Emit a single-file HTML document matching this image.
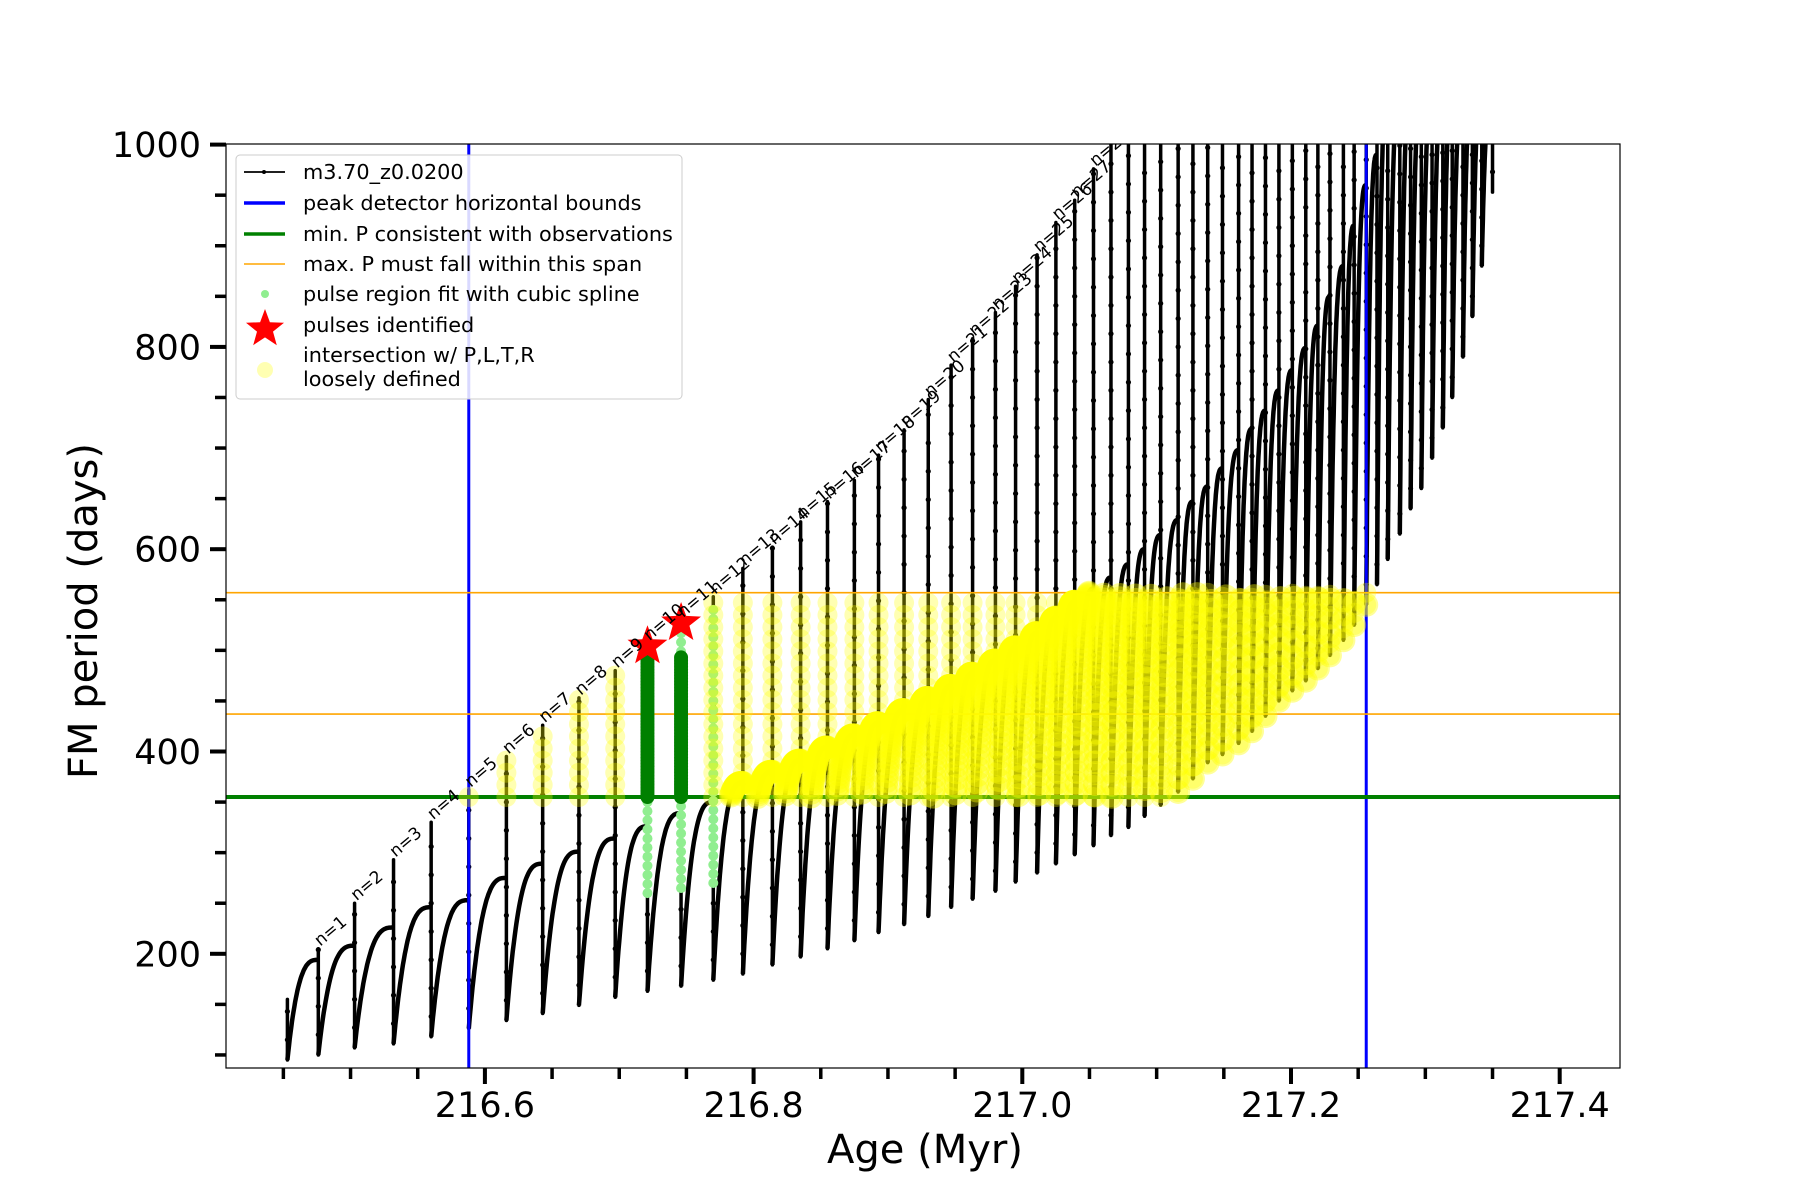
<!DOCTYPE html>
<html><head><meta charset="utf-8"><style>
html,body{margin:0;padding:0;background:#fff;}
svg{display:block;font-family:"DejaVu Sans","Liberation Sans",sans-serif;}
</style></head><body>
<svg id="chart" width="1800" height="1200" viewBox="0 0 1800 1200" xmlns="http://www.w3.org/2000/svg">
<defs><clipPath id="plotclip"><rect x="226" y="144" width="1394" height="924"/></clipPath></defs>
<rect x="0" y="0" width="1800" height="1200" fill="#fff"/>
<g id="plot" clip-path="url(#plotclip)"></g>
<rect x="226" y="144" width="1394" height="924" fill="none" stroke="#000" stroke-width="1.2"/>
<g id="axes"></g>
<text x="925" y="1163" font-size="40" text-anchor="middle">Age (Myr)</text>
<text x="0" y="0" font-size="40" text-anchor="middle" transform="translate(97,611) rotate(-90)">FM period (days)</text>
<g id="legend">
<rect x="236" y="155" width="446" height="244" rx="4" fill="#fff" fill-opacity="0.85" stroke="#ccc" stroke-width="1"/>
<g><line x1="244" y1="172" x2="285" y2="172" stroke="#000" stroke-width="1.8"/><circle cx="264" cy="172" r="2" fill="#000"/><text x="303" y="179" font-size="20.8">m3.70_z0.0200</text></g>
<g><line x1="244" y1="203" x2="285" y2="203" stroke="#0000ff" stroke-width="3.5"/><text x="303" y="210" font-size="20.8">peak detector horizontal bounds</text></g>
<g><line x1="244" y1="234" x2="285" y2="234" stroke="#008000" stroke-width="3.5"/><text x="303" y="241" font-size="20.8">min. P consistent with observations</text></g>
<g><line x1="244" y1="264" x2="285" y2="264" stroke="#ffa500" stroke-width="1.5"/><text x="303" y="271" font-size="20.8">max. P must fall within this span</text></g>
<g><circle cx="265" cy="294" r="4" fill="#90ee90"/><text x="303" y="301" font-size="20.8">pulse region fit with cubic spline</text></g>
<g><polygon id="legstar" fill="#ff0000"/><text x="303" y="332" font-size="20.8">pulses identified</text></g>
<g><circle cx="265" cy="370" r="8" fill="#ffff00" fill-opacity="0.3"/><text x="303" y="362" font-size="20.8">intersection w/ P,L,T,R</text><text x="303" y="386" font-size="20.8">loosely defined</text></g>
</g>
</svg>
<script>
// ---- data ----
const pulseAge = [216.453,216.476,216.503,216.532,216.560,216.588,216.616,216.643,216.670,216.697,216.721,216.746,216.770,216.792,216.814,216.835,216.855,216.875,216.893,216.912,216.930,216.947,216.963,216.980,216.995,217.011,217.025,217.039,217.053,217.066,217.079,217.091,217.103,217.116,217.127,217.138,217.149,217.161,217.171,217.181,217.191,217.201,217.211,217.220,217.229,217.239,217.247,217.256,217.264,217.272,217.281,217.289,217.297,217.305,217.313,217.320,217.328,217.335,217.342,217.350];
const spikeTop = [155,205,250,293,330,362,395,426,453,480,507,530,553,581,602,627,647,668,693,718,748,782,808,834,860,891,923,945,976,1050,1050,1050,1050,1050,1050,1050,1050,1050,1050,1050,1050,1050,1050,1050,1050,1050,1050,1050,1050,1050,1050,1050,1050,1050,1050,1050,1050,1050,1050,1050];
const peakBefore = [155,194,208,226,246,253,275,289,301,314,326,339,350,369,380,391,404,416,428,441,453,465,477,490,503,517,532,548,561,572,585,600,614,629,647,662,680,698,719,737,757,777,799,821,850,880,920,960,990,1050,1050,1050,1050,1050,1050,1050,1050,1050,1050,1050];
const troughAfter = [95,100,107,111,118,126,134,141,149,157,163,168,174,180,189,197,205,213,221,229,237,246,254,262,271,280,289,298,307,317,325,336,347,360,373,389,397,408,420,435,450,460,470,482,495,510,525,545,565,590,615,640,660,690,720,750,790,830,880,953];
const boundsAge = [216.588, 217.256];
const minP = [355];
const maxPSpan = [437, 557];
const starAge = [216.721, 216.746];
const starP = [504, 527];
const greenPulseIdx = [10, 11];
const greenTop = [500, 495];
const splineLow = [260, 265, 270];
const splineHigh = [500, 530, 545];
const splineIdx = [10, 11, 12];
const xTicks = [216.6, 216.8, 217.0, 217.2, 217.4];
const xTickLabels = ["216.6","216.8","217.0","217.2","217.4"];
const yTicks = [200, 400, 600, 800, 1000];
const yTickLabels = ["200","400","600","800","1000"];

// ---- axes ----
const X = t => 1291 + (t - 217.2) * 1343.5;
const Y = p => 144.6 + (1000 - p) * 1.0115;
const NS = "http://www.w3.org/2000/svg";
function mk(tag, attrs, parent){ const e=document.createElementNS(NS,tag); for(const k in attrs) e.setAttribute(k,attrs[k]); parent.appendChild(e); return e; }
const plot = document.getElementById('plot');
const axes = document.getElementById('axes');

// ---- black trace ----
const gTrace = mk('g',{},plot);


const curve = (i,u) => troughAfter[i] + (peakBefore[i+1]-troughAfter[i])*(1-Math.pow(1-u,3));
for(let i=0;i<pulseAge.length;i++){
  const sx = X(pulseAge[i]);
  const lo = Math.min(troughAfter[i], peakBefore[i]);
  const sp = mk('line',{x1:sx,y1:Y(spikeTop[i]),x2:sx,y2:Y(lo),stroke:'#000','stroke-width':3.5,'stroke-linecap':'round'},gTrace);
  
  
  for(let p=lo+20; p<Math.min(spikeTop[i],1000); p+=28){
    const d = mk('circle',{cx:sx,cy:Y(p),r:2.6,fill:'#000'},gTrace);
    
    
  }
  if(i<pulseAge.length-1){
    let pts=[];
    for(let k=0;k<=40;k++){ const u=k/40; const t=pulseAge[i]+u*(pulseAge[i+1]-pulseAge[i]); pts.push(X(t).toFixed(1)+','+Y(curve(i,u)).toFixed(1)); }
    const pl = mk('polyline',{points:pts.join(' '),fill:'none',stroke:'#000','stroke-width':4.5,'stroke-linejoin':'round'},gTrace);
    
    
  }
}

// ---- reference lines ----
boundsAge.forEach(a=>{
  const l = mk('line',{x1:X(a),y1:144,x2:X(a),y2:1068,stroke:'#0000ff','stroke-width':3},plot);
  
  
});
minP.forEach(p=>{
  const l = mk('line',{x1:226,y1:Y(p),x2:1620,y2:Y(p),stroke:'#008000','stroke-width':4},plot);
  
  
});
maxPSpan.forEach(p=>{
  const l = mk('line',{x1:226,y1:Y(p),x2:1620,y2:Y(p),stroke:'#ffa500','stroke-width':1.6},plot);
  
  
});

// ---- spline points ----
const gSpl = mk('g',{},plot);


splineIdx.forEach((idx,j)=>{
  const sx = X(pulseAge[idx]);
  for(let p=splineLow[j]; p<=splineHigh[j]; p+=9){
    const c = mk('circle',{cx:sx,cy:Y(p),r:5,fill:'#90ee90'},gSpl);
    
    
  }
});
greenPulseIdx.forEach((idx,j)=>{
  const sx = X(pulseAge[idx]);
  for(let p=minP[0]; p<=greenTop[j]; p+=3){
    const c = mk('circle',{cx:sx,cy:Y(p),r:7,fill:'#008000'},gSpl);
    
    
  }
});

// ---- stars ----
function starPts(cx,cy,R){ let s=[]; for(let k=0;k<10;k++){ const r=k%2?R*0.42:R; const a=-Math.PI/2+k*Math.PI/5; s.push((cx+r*Math.cos(a)).toFixed(1)+','+(cy+r*Math.sin(a)).toFixed(1)); } return s.join(' '); }
starAge.forEach((a,j)=>{
  const s = mk('polygon',{points:starPts(X(a),Y(starP[j]),21),fill:'#ff0000'},plot);
  
  
});
document.getElementById('legstar').setAttribute('points', starPts(265,329,20));

// ---- yellow intersections ----
const gY = mk('g',{},plot);


const inB = t => t>=boundsAge[0]-0.001 && t<=boundsAge[1]+0.001;
for(let i=0;i<pulseAge.length;i++){
  if(inB(pulseAge[i]) && greenPulseIdx.indexOf(i)<0){
    const lo=Math.max(minP[0],Math.min(troughAfter[i],peakBefore[i])), hi=Math.min(maxPSpan[1],spikeTop[i]);
    for(let p=lo;p<=hi;p+=12){
      const c = mk('circle',{cx:X(pulseAge[i]),cy:Y(p),r:10,fill:'#ffff00','fill-opacity':0.3},gY);
      
      
    }
  }
  if(i<pulseAge.length-1){
    for(let k=0;k<=60;k++){
      const u=k/60; const t=pulseAge[i]+u*(pulseAge[i+1]-pulseAge[i]); const p=curve(i,u);
      if(inB(t) && p>=minP[0] && p<=maxPSpan[1]){
        const c = mk('circle',{cx:X(t),cy:Y(p),r:12,fill:'#ffff00','fill-opacity':0.4},gY);
        
        
      }
    }
  }
}

// ---- pulse labels ----
const gL = mk('g',{},plot);


for(let n=1;n<=28;n++){
  const x=X(pulseAge[n])+2, y=Y(spikeTop[n])-2;
  const t = mk('text',{x:0,y:0,'font-size':17,transform:`translate(${x.toFixed(1)},${y.toFixed(1)}) rotate(-40)`},gL);
  t.textContent='n='+n;
  
  
}

// ---- ticks ----
for(let v=216.45; v<=217.401; v+=0.05){
  const l = mk('line',{x1:X(v),y1:1068,x2:X(v),y2:1079,stroke:'#000','stroke-width':3.5},axes);
  
  
}
xTicks.forEach((v,j)=>{
  const l = mk('line',{x1:X(v),y1:1068,x2:X(v),y2:1084,stroke:'#000','stroke-width':4},axes);
  
  
  const t = mk('text',{x:X(v),y:1117,'font-size':35,'text-anchor':'middle'},axes);
  t.textContent = xTickLabels[j];
  
  
});
for(let v=100; v<=950; v+=50){
  const l = mk('line',{x1:215,y1:Y(v),x2:226,y2:Y(v),stroke:'#000','stroke-width':3.5},axes);
  
  
}
yTicks.forEach((v,j)=>{
  const l = mk('line',{x1:210,y1:Y(v),x2:226,y2:Y(v),stroke:'#000','stroke-width':4},axes);
  
  
  const t = mk('text',{x:201,y:Y(v)+12.5,'font-size':35,'text-anchor':'end'},axes);
  t.textContent = yTickLabels[j];
  
  
});
</script>
</body></html>
